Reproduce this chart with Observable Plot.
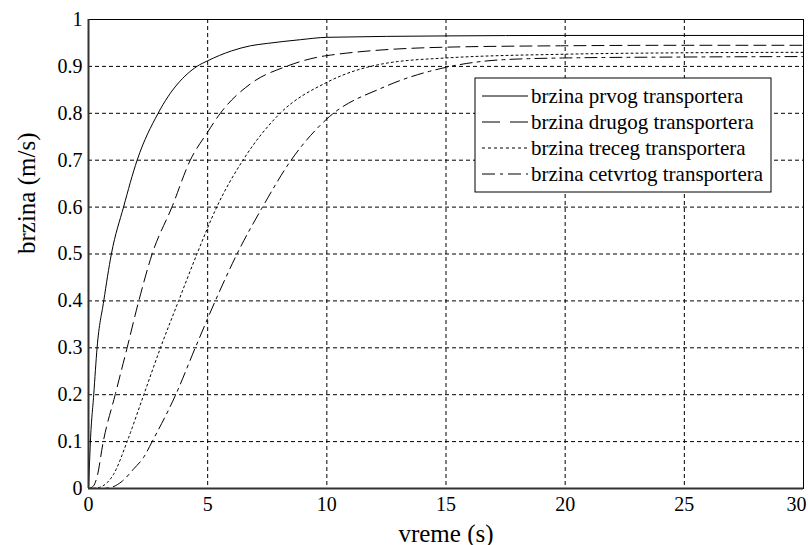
<!DOCTYPE html>
<html>
<head>
<meta charset="utf-8">
<script src="https://cdn.jsdelivr.net/npm/d3@7"></script>
<script src="https://cdn.jsdelivr.net/npm/@observablehq/plot@0.6"></script>
<style>
  html, body { margin: 0; padding: 0; background: white; }
  #wrap { position: relative; width: 808px; height: 545px; }
  #wrap svg text { font-family: "Liberation Serif", "Times New Roman", serif; }
  #legend { position: absolute; left: 0; top: 0; }
</style>
</head>
<body>
<div id="wrap"></div>
<script>
// ---- data ----
const seriesNames = [
  "brzina prvog transportera",
  "brzina drugog transportera",
  "brzina treceg transportera",
  "brzina cetvrtog transportera"
];
const t1 = [0, 0.04, 0.08, 0.22, 0.36, 0.64, 0.96, 1.47, 2.04, 2.92, 4.55, 5, 6, 6.8, 7.5, 8.9, 10, 15, 20, 25, 30];
const v1 = [0, 0.05, 0.1, 0.2, 0.3, 0.4, 0.5, 0.6, 0.7, 0.8, 0.9, 0.912, 0.933, 0.944, 0.949, 0.957, 0.962, 0.965, 0.966, 0.966, 0.966];
const t2 = [0, 0.2, 0.36, 0.62, 1.12, 1.62, 2.11, 2.67, 3.5, 4.27, 5, 5.53, 6.8, 8.3, 10, 15, 20, 25, 30];
const v2 = [0, 0.005, 0.025, 0.1, 0.2, 0.3, 0.4, 0.5, 0.6, 0.7, 0.76, 0.8, 0.863, 0.9, 0.923, 0.941, 0.944, 0.945, 0.945];
const t3 = [0, 0.3, 0.5, 1.06, 1.62, 2.32, 3.02, 3.78, 4.55, 5.38, 6.48, 8.04, 10, 12.4, 15, 20, 25, 30];
const v3 = [0, 0.001, 0.003, 0.031, 0.1, 0.2, 0.3, 0.4, 0.5, 0.6, 0.7, 0.8, 0.866, 0.906, 0.918, 0.926, 0.929, 0.93];
const t4 = [0, 0.5, 0.92, 1.4, 1.9, 2.32, 2.67, 3.66, 4.48, 5.32, 6.23, 7.3, 8.5, 10, 12.4, 15, 17.3, 20, 25, 30];
const v4 = [0, 0.0, 0.002, 0.015, 0.042, 0.067, 0.1, 0.2, 0.3, 0.4, 0.5, 0.6, 0.7, 0.788, 0.856, 0.898, 0.914, 0.918, 0.92, 0.921];
const xTicks = [0, 5, 10, 15, 20, 25, 30];
const yTicks = [0, 0.1, 0.2, 0.3, 0.4, 0.5, 0.6, 0.7, 0.8, 0.9, 1];
const xLabel = "vreme (s)";
const yLabel = "brzina (m/s)";

const times = [t1, t2, t3, t4];
const vals = [v1, v2, v3, v4];
const dashes = [null, "12,6", "2,3", "12,5,3,5"];

const series = seriesNames.map((name, i) =>
  times[i].map((t, j) => ({series: name, t, v: vals[i][j]}))
);

const font = "Liberation Serif";

const lineMarks = series.map((d, i) =>
  Plot.line(d, {x: "t", y: "v", stroke: "black", strokeWidth: 1,
    curve: "monotone-x", strokeDasharray: dashes[i] ?? undefined})
);

const lastX = xTicks[xTicks.length - 1];

const chart = Plot.plot({
  width: 808,
  height: 545,
  marginLeft: 88,
  marginRight: 5,
  marginTop: 19,
  marginBottom: 57,
  style: {fontFamily: font, fontSize: "20px", background: "white", color: "black"},
  x: {type: "linear", domain: [0, 30]},
  y: {type: "linear", domain: [0, 1]},
  marks: [
    Plot.gridX(xTicks, {stroke: "black", strokeOpacity: 1, strokeDasharray: "4,3"}),
    Plot.gridY(yTicks, {stroke: "black", strokeOpacity: 1, strokeDasharray: "4,3"}),
    ...lineMarks,
    Plot.frame({stroke: "black", strokeWidth: 1}),
    Plot.ruleX([0], {stroke: "#333", strokeWidth: 2}),
    Plot.ruleY([0], {stroke: "#333", strokeWidth: 2}),
    Plot.axisX(xTicks.filter(d => d !== lastX), {tickSize: 0, tickPadding: 8, label: null, fontSize: 20, fontFamily: font}),
    Plot.axisX([lastX], {tickSize: 0, tickPadding: 8, label: null, fontSize: 20, dx: -7, fontFamily: font}),
    Plot.axisY(yTicks, {tickSize: 0, tickPadding: 6, label: null, fontSize: 20, fontFamily: font,
      tickFormat: d => d === 0 || d === 1 ? String(d) : d3.format(".1f")(d)}),
    Plot.text([xLabel], {frameAnchor: "bottom", dy: 45, fontSize: 25, lineAnchor: "middle", fontFamily: font}),
    Plot.text([yLabel], {frameAnchor: "left", dx: -62, rotate: -90, fontSize: 25, lineAnchor: "middle", fontFamily: font})
  ]
});

const wrap = document.getElementById("wrap");
wrap.appendChild(chart);

// ---- legend overlay (inside the plot, upper right) ----
const lg = d3.select(wrap).append("svg")
  .attr("id", "legend").attr("width", 808).attr("height", 545)
  .style("font-family", font);
const box = {x: 475, y: 78, w: 296, h: 114};
lg.append("rect").attr("x", box.x).attr("y", box.y).attr("width", box.w).attr("height", box.h)
  .attr("fill", "white").attr("stroke", "black").attr("stroke-width", 1);
const rowY = [96, 122, 148, 174];
seriesNames.forEach((name, i) => {
  const y = rowY[i];
  lg.append("line").attr("x1", 482).attr("x2", 528).attr("y1", y).attr("y2", y)
    .attr("stroke", "black").attr("stroke-width", 1)
    .attr("stroke-dasharray", i === 1 ? "18,10" : i === 2 ? "3,3" : i === 3 ? "13,5,3,5" : null);
  lg.append("text").attr("x", 531).attr("y", y).attr("dy", "0.35em")
    .attr("font-size", 21).attr("fill", "black").text(name);
});
</script>
</body>
</html>
